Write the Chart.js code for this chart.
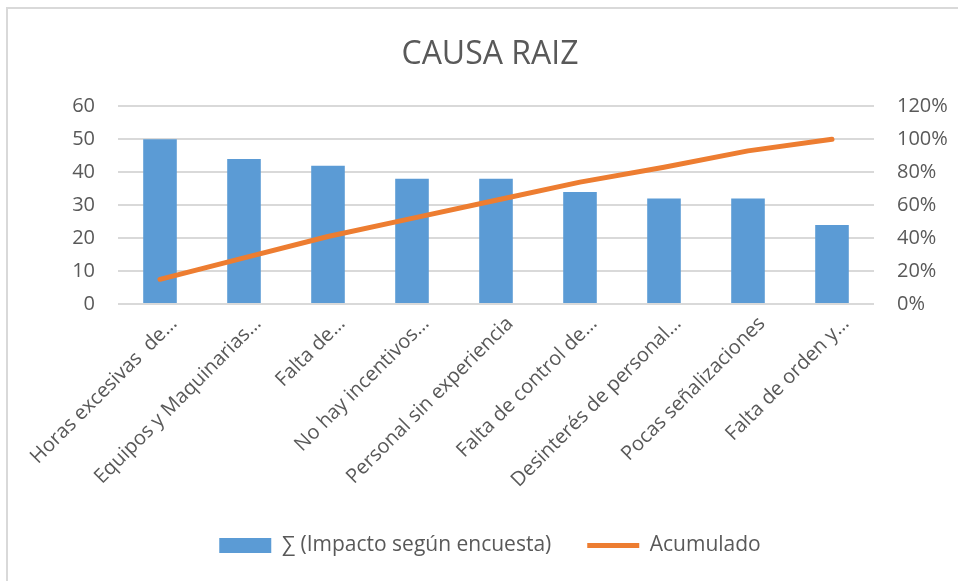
<!DOCTYPE html>
<html>
<head>
<meta charset="utf-8">
<script src="https://cdn.jsdelivr.net/npm/chart.js@4.4.1/dist/chart.umd.min.js"></script>
<style>
  html, body { margin: 0; padding: 0; background: #fff; }
  body { width: 958px; height: 581px; position: relative; overflow: hidden; }
  .frame { position: absolute; left: 6px; top: 7px; width: 1000px; height: 700px; border: 2px solid #d9d9d9; box-sizing: border-box; }
  #wrap { position: absolute; left: 0; top: 0; width: 958px; height: 581px; }
</style>
</head>
<body>
<div class="frame"></div>
<div id="wrap"><canvas id="pareto"></canvas></div>
<script>
// ── Data ──────────────────────────────────────────────────
const categories = [
  "Horas excesivas  de…",
  "Equipos y Maquinarias…",
  "Falta de…",
  "No hay incentivos…",
  "Personal sin experiencia",
  "Falta de control de…",
  "Desinterés de personal…",
  "Pocas señalizaciones",
  "Falta de orden y…"
];
const impacto = [50, 44, 42, 38, 38, 34, 32, 32, 24];
const acumulado = [15, 28, 41, 52, 63, 74, 83, 93, 100]; // percent
const leftTicks = [0, 10, 20, 30, 40, 50, 60];
const rightTicks = [0, 20, 40, 60, 80, 100, 120];

const TEXT = "#595959";
const GRID = "#d9d9d9";
const BLUE = "#5b9bd5";
const ORANGE = "#ed7d31";
const FONT = "'Open Sans', 'Noto Sans', sans-serif";

// ── Chart ─────────────────────────────────────────────────
function renderPareto() {
  const canvas = document.getElementById("pareto");
  if (!canvas || typeof Chart === "undefined") return;

  new Chart(canvas, {
    type: "bar",
    data: {
      labels: categories,
      datasets: [
        {
          type: "bar",
          label: "∑ (Impacto según encuesta)",
          data: impacto,
          backgroundColor: BLUE,
          borderWidth: 0,
          yAxisID: "y",
          categoryPercentage: 1,
          barPercentage: 0.4,
          order: 1
        },
        {
          type: "line",
          label: "Acumulado",
          data: acumulado,
          borderColor: ORANGE,
          backgroundColor: ORANGE,
          borderWidth: 5,
          borderCapStyle: "round",
          borderJoinStyle: "round",
          pointRadius: 0,
          pointHoverRadius: 0,
          tension: 0,
          yAxisID: "y2",
          order: 0
        }
      ]
    },
    options: {
      responsive: true,
      maintainAspectRatio: false,
      animation: false,
      // left padding nudges title + legend right, y axis width keeps plot at x=118
      layout: { padding: { left: 22, right: 0, top: 0, bottom: 15 } },
      plugins: {
        title: {
          display: true,
          text: "CAUSA RAIZ",
          color: TEXT,
          font: { family: FONT, size: 32, weight: "normal" },
          padding: { top: 36, bottom: 32 }
        },
        legend: {
          position: "bottom",
          labels: {
            color: TEXT,
            font: { family: FONT, size: 21 },
            usePointStyle: true,
            pointStyleWidth: 52,
            boxHeight: 15,
            padding: 36,
            generateLabels: (chart) =>
              Chart.defaults.plugins.legend.labels.generateLabels(chart)
                .sort((a, b) => a.datasetIndex - b.datasetIndex)
                .map((it) => it.datasetIndex === 0
                  ? { ...it, pointStyle: "rect", fillStyle: BLUE, strokeStyle: BLUE, lineWidth: 0 }
                  : { ...it, pointStyle: "line", fillStyle: ORANGE, strokeStyle: ORANGE, lineWidth: 5 })
          }
        },
        tooltip: { enabled: false }
      },
      scales: {
        x: {
          grid: { display: false },
          border: { display: false },
          ticks: {
            color: TEXT,
            font: { family: FONT, size: 20 },
            maxRotation: 45,
            minRotation: 45,
            autoSkip: false,
            labelOffset: 14,
            padding: 0
          },
          afterFit: (s) => { s.height = 195; }
        },
        y: {
          position: "left",
          min: 0,
          max: 60,
          afterBuildTicks: (s) => { s.ticks = leftTicks.map((v) => ({ value: v })); },
          grid: { color: GRID, lineWidth: 2, drawTicks: false },
          border: { display: false },
          ticks: { color: TEXT, font: { family: FONT, size: 20 }, padding: 23 },
          afterFit: (s) => { s.width = 96; }
        },
        y2: {
          position: "right",
          min: 0,
          max: 120,
          afterBuildTicks: (s) => { s.ticks = rightTicks.map((v) => ({ value: v })); },
          grid: { display: false, drawTicks: false },
          border: { display: false },
          ticks: {
            color: TEXT,
            font: { family: FONT, size: 20 },
            padding: 23,
            callback: (v) => `${v}%`
          },
          afterFit: (s) => { s.width = 84; }
        }
      }
    }
  });
}

renderPareto();
</script>
</body>
</html>
